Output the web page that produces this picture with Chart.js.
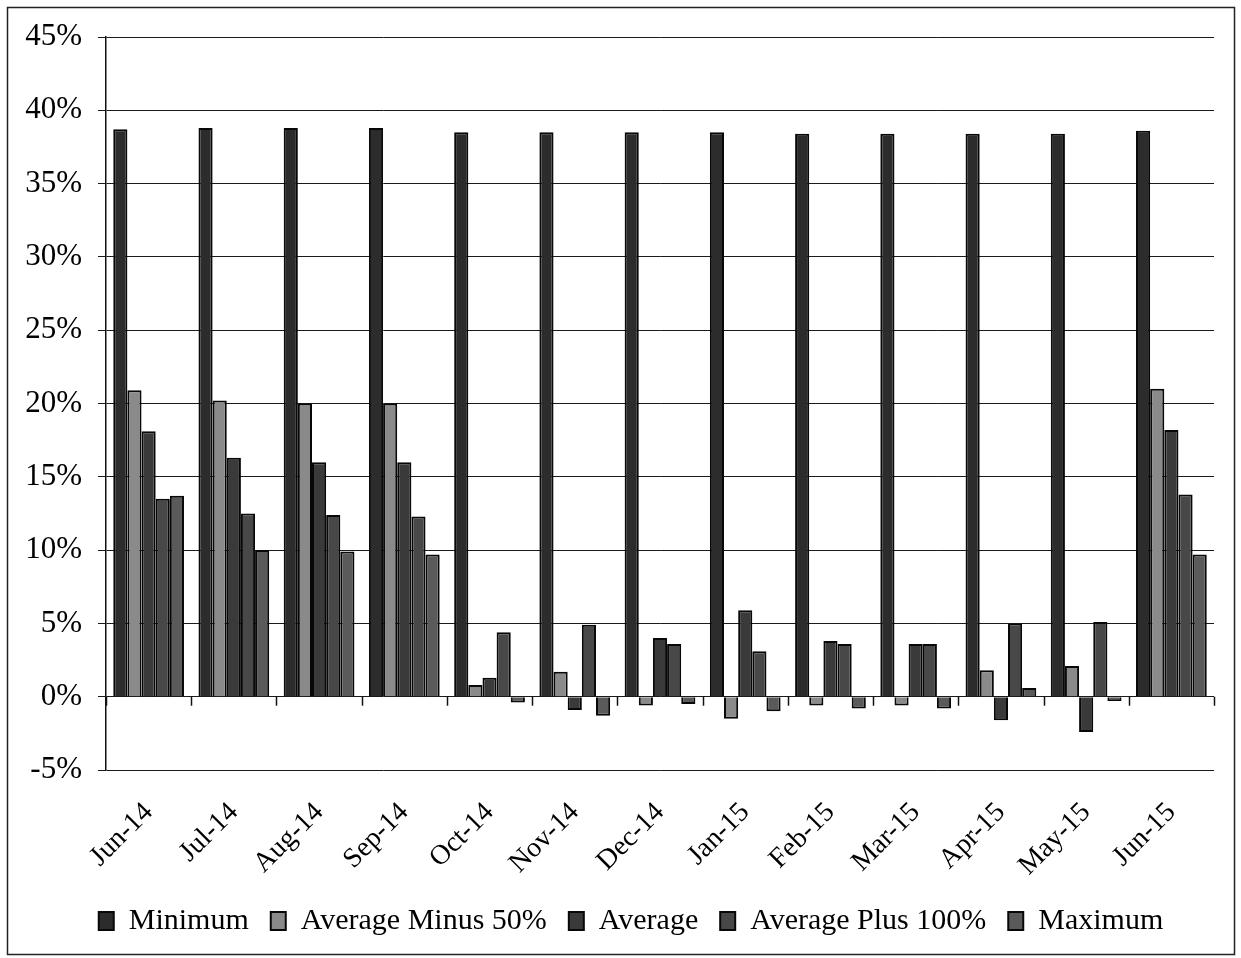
<!DOCTYPE html>
<html>
<head>
<meta charset="utf-8">
<script src="https://cdn.jsdelivr.net/npm/chart.js@4/dist/chart.umd.min.js"></script>
<style>
  html, body { margin: 0; padding: 0; background: #fff; }
  #wrap { position: relative; width: 1241px; height: 958px; }
</style>
</head>
<body>
<div id="wrap"><canvas id="c" width="1241" height="958"></canvas></div>
<script>
const categories = ['Jun-14','Jul-14','Aug-14','Sep-14','Oct-14','Nov-14','Dec-14','Jan-15','Feb-15','Mar-15','Apr-15','May-15','Jun-15'];
const minimum      = [38.7, 38.8, 38.8, 38.8, 38.5, 38.5, 38.5, 38.5, 38.4, 38.4, 38.4, 38.4, 38.6];
const avgMinus50   = [20.9, 20.2, 20.0, 20.0, 0.8, 1.7, -0.6, -1.5, -0.6, -0.6, 1.8, 2.1, 21.0];
const average      = [18.1, 16.3, 16.0, 16.0, 1.3, -0.9, 4.0, 5.9, 3.8, 3.6, -1.6, -2.4, 18.2];
const avgPlus100   = [13.5, 12.5, 12.4, 12.3, 4.4, 4.9, 3.6, 3.1, 3.6, 3.6, 5.0, 5.1, 13.8];
const maximum      = [13.7, 10.0, 9.9, 9.7, -0.4, -1.3, -0.5, -1.0, -0.8, -0.8, 0.6, -0.3, 9.7];
const yTicks       = [-5, 0, 5, 10, 15, 20, 25, 30, 35, 40, 45];

const FONT = "'Liberation Serif', 'Times New Roman', serif";

const frame = {
  id: 'frame',
  afterLayout(chart) {
    if (chart.legend) chart.legend.left += 48;
  },
  beforeDraw(chart) {
    const ctx = chart.ctx;
    ctx.save();
    ctx.fillStyle = '#fff';
    ctx.fillRect(0, 0, chart.width, chart.height);
    ctx.restore();
  },
  afterDraw(chart) {
    const ctx = chart.ctx;
    ctx.save();
    ctx.strokeStyle = '#222';
    ctx.lineWidth = 1.5;
    ctx.strokeRect(7.5, 7.5, 1227, 947);
    const x = chart.scales.x, y = chart.scales.y;
    const y0 = y.getPixelForValue(0);
    ctx.strokeStyle = '#111';
    ctx.lineWidth = 1.5;
    for (let i = 0; i <= categories.length; i++) {
      let px;
      if (i === 0) px = chart.chartArea.left;
      else if (i === categories.length) px = chart.chartArea.right;
      else px = (x.getPixelForValue(i - 1) + x.getPixelForValue(i)) / 2;
      ctx.beginPath();
      ctx.moveTo(Math.round(px) + 0.5, y0);
      ctx.lineTo(Math.round(px) + 0.5, y0 + 9);
      ctx.stroke();
    }
    ctx.restore();
  }
};

const common = { borderColor: '#080808', borderWidth: 2, categoryPercentage: 0.83, barPercentage: 1.0 };

new Chart(document.getElementById('c'), {
  type: 'bar',
  data: {
    labels: categories,
    datasets: [
      { label: 'Minimum', data: minimum, backgroundColor: '#2c2c2c', ...common },
      { label: 'Average Minus 50%', data: avgMinus50, backgroundColor: '#8a8a8a', ...common },
      { label: 'Average', data: average, backgroundColor: '#3a3a3a', ...common },
      { label: 'Average Plus 100%', data: avgPlus100, backgroundColor: '#484848', ...common },
      { label: 'Maximum', data: maximum, backgroundColor: '#5a5a5a', ...common }
    ]
  },
  options: {
    responsive: false,
    animation: false,
    devicePixelRatio: 1,
    layout: { padding: { top: 37, left: 0, right: 27, bottom: 12 } },
    plugins: {
      legend: {
        position: 'bottom',
        labels: {
          font: { family: FONT, size: 30 },
          color: '#000',
          boxWidth: 15,
          boxHeight: 18,
          padding: 22
        }
      },
      tooltip: { enabled: false }
    },
    scales: {
      x: {
        grid: { display: false, drawTicks: false },
        border: { display: false },
        ticks: {
          font: { family: FONT, size: 28 },
          color: '#000',
          maxRotation: 45,
          minRotation: 45,
          padding: 26,
          autoSkip: false
        },
        afterFit(s) { s.height = 114; }
      },
      y: {
        min: -5,
        max: 45,
        afterBuildTicks(s) { s.ticks = yTicks.map(v => ({ value: v })); },
        grid: { color: '#1a1a1a', lineWidth: 1, tickLength: 8, tickColor: '#1a1a1a' },
        border: { display: true, color: '#111', width: 1.5 },
        ticks: {
          font: { family: FONT, size: 31 },
          color: '#000',
          padding: 16,
          callback: v => v + '%'
        },
        afterFit(s) { s.width = 106; }
      }
    }
  },
  plugins: [frame]
});
</script>
</body>
</html>
